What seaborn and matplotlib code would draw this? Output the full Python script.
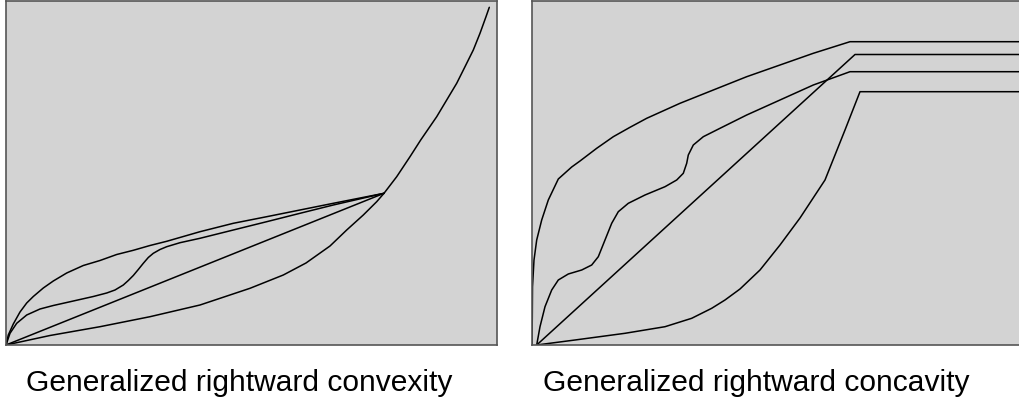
import pandas as pd
import matplotlib
matplotlib.use('Agg')
import matplotlib.pyplot as plt
import seaborn as sns

sns.set_style('white')
plt.rcParams['font.family'] = ['Liberation Sans', 'DejaVu Sans']

# Panel izquierdo: convexidad (unidades arbitrarias, 0-491 x 0-344)
conv_top_x = [0, 2.3, 7.3, 14, 20.7, 27.3, 37.3, 47.3, 60.7, 77.3, 94, 110.7, 127.3, 144, 160.7, 194, 227.3, 260.7, 294, 327.3, 378]
conv_top_y = [0, 10, 21, 33, 42, 48.5, 57, 64, 72, 79.5, 84.5, 90.5, 94.7, 99.5, 103.7, 113.3, 121.7, 128.3, 135, 141.7, 151.7]

conv_wave_x = [0, 4, 10.7, 20.7, 34, 47.3, 60.7, 74, 87.3, 100.7, 109, 117.3, 122.3, 127.3, 132.3, 137.3, 142.3, 147.3, 154, 160.7, 174, 194, 227.3, 260.7, 294, 327.3, 378]
conv_wave_y = [0, 11.7, 21.7, 30, 36, 39.5, 42.5, 45.5, 48.5, 52, 55, 60, 64.5, 69.5, 75.5, 81.7, 87.5, 91.7, 95.5, 98.3, 102.3, 106.7, 115, 123.3, 131.7, 140, 151.7]

conv_line_x = [0, 378]
conv_line_y = [0, 151.7]

conv_low_x = [0, 44, 94, 144, 194, 244, 277.3, 300, 324, 340.7, 357.3, 370.7, 378, 390.7, 404, 414.7,
              430.7, 440.7, 450.7, 459, 467.3, 474, 480, 483.3]
conv_low_y = [0, 9.5, 18.3, 28.3, 40, 56.7, 70, 82, 99, 115, 130, 143.3, 151.7, 168.3, 188.3, 205,
              228.3, 245, 261.7, 278.3, 295, 311.7, 328.3, 337.7]

# Panel derecho: concavidad
conc_top_x = [0, 0.3, 0.5, 2, 4.7, 9.7, 16.3, 26.3, 39.7, 48, 64.7, 81.3, 98, 114.7, 148, 181.3, 214.7, 248, 281.3, 318, 500]
conc_top_y = [0, 28.3, 58.3, 85, 105, 125, 145, 166, 178, 184, 196.7, 208.3, 217.7, 226.7, 241.7, 255, 268.3, 280, 291.7, 303.3, 303.3]

conc_line_x = [4.7, 323, 500]
conc_line_y = [0, 290.5, 290.5]

conc_wave_x = [4.7, 8, 13, 19.7, 26.3, 36.3, 49.7, 59.7, 66.3, 73, 79.7, 86.3, 96.3, 113, 133, 144.7, 151.3, 154.7,
               156.3, 161.3, 171.3, 188, 214.7, 248, 281.3, 318, 500]
conc_wave_y = [0, 18.3, 38.3, 55, 65, 71, 75, 80, 88.3, 105, 121.7, 133.3, 141.7, 150, 158.3, 165, 171.7, 181.7,
               190, 200, 208.3, 216.7, 230, 245, 260, 273.3, 273.3]

conc_low_x = [4.7, 43, 93, 133, 159.7, 179.7, 193, 208, 228, 248, 268, 293, 313, 328, 500]
conc_low_y = [0, 5, 11.7, 18.3, 26.7, 36.7, 45, 56, 75, 100, 127, 165, 215, 253.3, 253.3]

titles = ['Generalized rightward convexity', 'Generalized rightward concavity']

panels = [
    [(conv_top_x, conv_top_y), (conv_wave_x, conv_wave_y), (conv_line_x, conv_line_y), (conv_low_x, conv_low_y)],
    [(conc_top_x, conc_top_y), (conc_line_x, conc_line_y), (conc_wave_x, conc_wave_y), (conc_low_x, conc_low_y)],
]

W, H = 1019, 400
fig = plt.figure(figsize=(W / 100, H / 100), dpi=100)
ax_left_px = [6, 532]
title_cx = [239.5, 756.7]

for i, curves in enumerate(panels):
    ax = fig.add_axes([ax_left_px[i] / W, 55 / H, 491 / W, 344 / H])
    ax.set_facecolor('#d3d3d3')
    for cx, cy in curves:
        df = pd.DataFrame({'x': cx, 'y': cy})
        sns.lineplot(data=df, x='x', y='y', sort=False, estimator=None,
                     color='black', linewidth=1.1, ax=ax)
    ax.set_xlim(0, 491)
    ax.set_ylim(0, 344)
    ax.set_xticks([])
    ax.set_yticks([])
    ax.set_xlabel('')
    ax.set_ylabel('')
    for s in ax.spines.values():
        s.set_color('#555555')
        s.set_linewidth(1.2)
    fig.text(title_cx[i] / W, 9 / H, titles[i], ha='center', va='baseline',
             fontsize=21.6, color='black')

fig.savefig('out.png', dpi=100)
